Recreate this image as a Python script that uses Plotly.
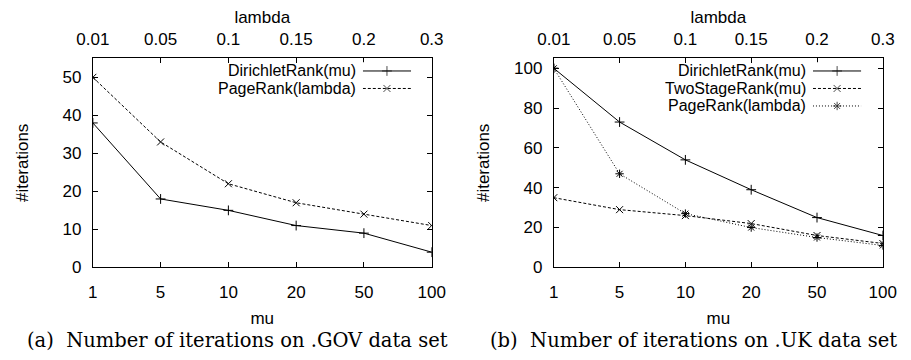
import plotly.graph_objects as go

# ---- data ----
mu_labels = ["1", "5", "10", "20", "50", "100"]
lambda_labels = ["0.01", "0.05", "0.1", "0.15", "0.2", "0.3"]

gov_dirichlet = [38, 18, 15, 11, 9, 4]
gov_pagerank = [50, 33, 22, 17, 14, 11]

uk_dirichlet = [100, 73, 54, 39, 25, 16]
uk_twostage = [35, 29, 26, 22, 16, 12]
uk_pagerank = [100, 47, 27, 20, 15, 11]

left_legend = ["DirichletRank(mu)", "PageRank(lambda)"]
right_legend = ["DirichletRank(mu)", "TwoStageRank(mu)", "PageRank(lambda)"]
captions = ["(a)  Number of iterations on .GOV data set",
            "(b)  Number of iterations on .UK data set"]

W, H = 911, 360
SANS = "Liberation Sans"
SERIF = "DejaVu Serif"
FS = 17
LEG_FS = 16

def px_x(a, b):
    return [a / W, b / W]

def px_y(top, bottom):
    return [1 - bottom / H, 1 - top / H]

PLOT_Y = px_y(60, 275)
LEFT_X = px_x(78.5, 429.3)
RIGHT_X = px_x(555.7, 896.3)

SOLID = "solid"
DASHED = "3px,2px"
DOTTED = "1px,2px"

fig = go.Figure()

def series(x, y, xa, ya, dash, symbol, msize=7):
    fig.add_trace(go.Scatter(
        x=x, y=y, xaxis=xa, yaxis=ya, mode="lines+markers",
        line=dict(color="black", width=1, dash=dash),
        marker=dict(symbol=symbol, size=msize, color="black",
                    line=dict(color="black", width=1)),
        showlegend=False, hoverinfo="skip"))

# left panel
series(mu_labels, gov_dirichlet, "x", "y", SOLID, "cross-thin", 7)
series(lambda_labels, gov_pagerank, "x2", "y", DASHED, "x-thin", 7)
# right panel
series(mu_labels, uk_dirichlet, "x3", "y2", SOLID, "cross-thin", 7)
series(mu_labels, uk_twostage, "x3", "y2", DASHED, "x-thin", 7)
series(lambda_labels, uk_pagerank, "x4", "y2", DOTTED, "asterisk", 7)

# legend samples (own small axes)
def legend_block(labels, styles, xa, ya):
    for i, (lab, (dash, sym)) in enumerate(zip(labels, styles)):
        fig.add_trace(go.Scatter(
            x=[0, 0.5, 1], y=[i, i, i], xaxis=xa, yaxis=ya,
            mode="lines+markers",
            line=dict(color="black", width=1, dash=dash),
            marker=dict(symbol=sym, size=[0, 7, 0], color="black",
                        line=dict(color="black", width=1)),
            showlegend=False, hoverinfo="skip"))
        fig.add_annotation(x=0, y=i, xref=xa, yref=ya, text=lab,
                           showarrow=False, xanchor="right", yanchor="middle",
                           xshift=-6, borderpad=0,
                           font=dict(family=SANS, size=LEG_FS, color="black"))

legend_block(left_legend, [(SOLID, "cross-thin"), (DASHED, "x-thin")], "x5", "y3")
legend_block(right_legend, [(SOLID, "cross-thin"), (DASHED, "x-thin"),
                            (DOTTED, "asterisk")], "x6", "y4")

tickfont = dict(family=SANS, size=FS, color="black")
titlefont = dict(family=SANS, size=FS, color="black")

def xbottom(domain):
    return dict(domain=domain, type="category", categoryorder="array",
                categoryarray=mu_labels, range=[0, 5], showline=True,
                linecolor="black", linewidth=1, ticks="inside", ticklen=5,
                tickcolor="black", showgrid=False, zeroline=False,
                tickfont=tickfont, ticklabelstandoff=9,
                title=dict(text="mu", font=titlefont, standoff=11))

def xtop(overlay, anchor):
    return dict(overlaying=overlay, anchor=anchor, side="top", type="category",
                categoryorder="array", categoryarray=lambda_labels, range=[0, 5],
                showline=True, linecolor="black", linewidth=1, ticks="inside",
                ticklen=5, tickcolor="black", showgrid=False, zeroline=False,
                tickfont=tickfont, ticklabelstandoff=6,
                title=dict(text="lambda", font=titlefont, standoff=1))

def yleft(rng, dtick, standoff):
    return dict(domain=PLOT_Y, range=rng, dtick=dtick, tick0=0, showline=True,
                mirror="ticks", linecolor="black", linewidth=1, ticks="inside",
                ticklen=5, tickcolor="black", showgrid=False, zeroline=False,
                tickfont=tickfont, ticklabelstandoff=7,
                title=dict(text="#iterations", font=titlefont, standoff=standoff))

def hidden(domain, rng):
    return dict(domain=domain, range=rng, visible=False, fixedrange=True)

fig.update_layout(
    width=W, height=H, margin=dict(l=0, r=0, t=0, b=0),
    paper_bgcolor="white", plot_bgcolor="white",
    xaxis=dict(xbottom(LEFT_X), anchor="y"),
    xaxis2=xtop("x", "y"),
    yaxis=dict(yleft([0, 55], 10, 29), anchor="x"),
    xaxis3=dict(xbottom(RIGHT_X), anchor="y2"),
    xaxis4=xtop("x3", "y2"),
    yaxis2=dict(yleft([0, 105], 20, 20), anchor="x3"),
    xaxis5=dict(hidden(px_x(358, 408), [0, 1]), anchor="y3"),
    yaxis3=dict(hidden(px_y(64, 100), [1.5, -0.5]), anchor="x5"),
    xaxis6=dict(hidden(px_x(824, 874), [0, 1]), anchor="y4"),
    yaxis4=dict(hidden(px_y(64, 118), [2.5, -0.5]), anchor="x6"),
)

for cx, text in zip([228 / W, 700 / W], captions):
    fig.add_annotation(x=cx, y=1 - 350 / H, xref="paper", yref="paper",
                       text=text, showarrow=False, xanchor="center",
                       yanchor="middle",
                       font=dict(family=SERIF, size=19.5, color="black"))

fig.write_html("out.html")
